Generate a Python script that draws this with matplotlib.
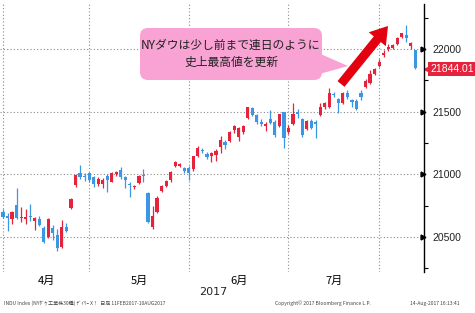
import numpy as np
import pandas as pd
import matplotlib
matplotlib.use('Agg')
import matplotlib.pyplot as plt
from matplotlib.patches import FancyBboxPatch, Polygon, FancyArrow
from matplotlib.transforms import IdentityTransform, blended_transform_factory

# daily candles, NY Dow, 31 Mar - 10 Aug 2017
dates = pd.bdate_range('2017-03-31', '2017-08-10')
dates = dates.drop(pd.to_datetime(['2017-04-14', '2017-05-29', '2017-07-04']))

o = [20700, 20665, 20645, 20755, 20650, 20645, 20668, 20630, 20644, 20572,
     20500, 20572, 20516, 20420, 20580, 20731, 20915, 21011, 20990, 21008,
     20979, 20923, 20920, 20990, 20940, 21000, 21035, 20980, 20925, 20900,
     20930, 20995, 20851, 20580, 20700, 20867, 20907, 20955, 21066, 21070,
     21050, 21050, 21043, 21149, 21195, 21162, 21150, 21154, 21218, 21260,
     21266, 21354, 21298, 21338, 21449, 21529, 21473, 21420, 21385, 21440,
     21418, 21386, 21497, 21340, 21400, 21497, 21441, 21362, 21425, 21415,
     21473, 21537, 21537, 21645, 21601, 21569, 21649, 21590, 21585, 21649,
     21697, 21729, 21800, 21864, 21950, 22000, 22010, 22040, 22096, 22110,
     22025, 21992]
h = [20720, 20690, 20710, 20890, 20740, 20720, 20760, 20660, 20665, 20590,
     20650, 20596, 20560, 20636, 20610, 20810, 21000, 21075, 21010, 21015,
     20990, 20975, 20970, 21000, 21020, 21030, 21058, 20990, 20935, 20915,
     20995, 21043, 20860, 20747, 20830, 20915, 20955, 21025, 21110, 21090,
     21060, 21070, 21150, 21225, 21210, 21180, 21180, 21200, 21305, 21275,
     21345, 21395, 21375, 21395, 21540, 21535, 21480, 21440, 21420, 21513,
     21430, 21485, 21500, 21390, 21570, 21520, 21450, 21430, 21440, 21430,
     21570, 21575, 21690, 21660, 21610, 21655, 21670, 21605, 21600, 21673,
     21760, 21830, 21850, 21920, 21990, 22040, 22040, 22100, 22130, 22190,
     22060, 21995]
l = [20650, 20550, 20600, 20640, 20620, 20600, 20625, 20555, 20585, 20450,
     20495, 20476, 20390, 20410, 20540, 20720, 20900, 20965, 20950, 20940,
     20900, 20910, 20890, 20860, 20935, 20990, 20965, 20890, 20820, 20880,
     20925, 20940, 20610, 20560, 20690, 20860, 20895, 20940, 21055, 21055,
     21010, 20955, 21030, 21140, 21170, 21120, 21100, 21110, 21170, 21200,
     21255, 21330, 21270, 21320, 21440, 21465, 21400, 21385, 21345, 21400,
     21300, 21380, 21210, 21320, 21395, 21450, 21300, 21355, 21365, 21290,
     21465, 21520, 21530, 21620, 21490, 21565, 21600, 21535, 21510, 21593,
     21690, 21720, 21790, 21855, 21940, 21985, 22000, 22030, 22085, 22060,
     22000, 21840]
c = [20663, 20650, 20700, 20655, 20662, 20656, 20658, 20651, 20596, 20460,
     20644, 20532, 20412, 20580, 20548, 20800, 20995, 20979, 20981, 20955,
     20923, 20963, 20957, 20951, 21010, 21015, 20980, 20955, 20915, 20907,
     20987, 20985, 20620, 20668, 20811, 20907, 20947, 21018, 21098, 21082,
     21025, 21010, 21147, 21212, 21184, 21138, 21174, 21190, 21275, 21236,
     21338, 21386, 21370, 21386, 21537, 21473, 21418, 21405, 21400, 21409,
     21314, 21481, 21290, 21370, 21481, 21485, 21314, 21425, 21370, 21405,
     21537, 21569, 21649, 21635, 21569, 21649, 21617, 21580, 21521, 21617,
     21745, 21800, 21840, 21896, 21965, 22016, 22030, 22088, 22128, 22085,
     22050, 21848]

last_price = '21844.01'
yticks = [20500, 21000, 21500, 22000]
note = 'NYダウは少し前まで連日のように\n史上最高値を更新'

RED = '#e6233d'
BLUE = '#3c96e6'
W, H = 475, 313

fig = plt.figure(figsize=(W / 100, H / 100), dpi=100)
ax = fig.add_axes([0, 41 / H, 424 / W, 268 / H])

x = np.arange(len(dates))
o, h, l, c = map(np.array, (o, h, l, c))
up = c >= o
cols = np.where(up, RED, BLUE)
ax.vlines(x, l, h, colors=cols, lw=0.9, zorder=3)
bot = np.minimum(o, c)
ht = np.maximum(np.abs(c - o), 8)
ax.bar(x, ht, bottom=bot, width=0.7, color=cols, lw=0, zorder=4)

# month boundaries = last trading day of each month (Mar..Jul)
ms = pd.Series(x, index=dates)
ends = ms.groupby(dates.month).max().values[:-1]
for e in ends:
    ax.axvline(e, color='#8a8a8a', ls=(0, (1, 2)), lw=0.8, zorder=1)
for yv in yticks:
    ax.axhline(yv, color='#8a8a8a', ls=(0, (1, 2)), lw=0.8, zorder=1)

mid = [(ends[i] + ends[i + 1]) / 2 for i in range(len(ends) - 1)]
mlabels = [f'{m}月' for m in range(4, 8)]
ax.set_xticks(mid)
ax.set_xticklabels(mlabels, family=['Noto Sans CJK JP', 'DejaVu Sans'], fontsize=8)
ax.tick_params(axis='x', length=0, pad=3)

ax.set_xlim(-0.66, 92.9)
ax.set_ylim(20220, 22360)
for s in ['left', 'top', 'bottom']:
    ax.spines[s].set_visible(False)
ax.spines['right'].set_linewidth(1.0)
ax.yaxis.tick_right()
ax.set_yticks(yticks)
ax.set_yticks(np.arange(20250, 22351, 250), minor=True)
ax.tick_params(axis='y', which='major', length=0, pad=6, labelsize=7.5, labelcolor='#222222')
for t in ax.get_yticklabels():
    t.set_family('Liberation Sans')
ax.tick_params(axis='y', which='minor', length=3, width=0.8, direction='out')
tr = blended_transform_factory(ax.transAxes, ax.transData)
ax.plot([0.997] * len(yticks), yticks, ls='none', marker='>', ms=3.5, color='black',
        transform=tr, clip_on=False, zorder=6)

# last price tag
ax.plot([1.009], [21844], marker='<', ms=6, color=RED, transform=tr, clip_on=False)
ax.text(1.015, 21844, last_price, transform=tr, color='white', fontsize=7.5,
        family='Liberation Sans', va='center', ha='left', clip_on=False,
        bbox=dict(boxstyle='square,pad=0.2', fc=RED, ec='none'))

# red arrow
fig.add_artist(FancyArrow(341, H - 84, 47, 58, width=9, head_width=22, head_length=17,
                          length_includes_head=True, color='#e3000f', lw=0,
                          transform=IdentityTransform()))

# callout
pink = '#f8a3d3'
fig.add_artist(Polygon([(316, H - 52), (348, H - 66), (316, H - 75)], closed=True,
                       fc=pink, ec='none', transform=IdentityTransform()))
fig.add_artist(FancyBboxPatch((140, H - 80), 182, 52,
                              boxstyle='round,pad=0,rounding_size=8',
                              fc=pink, ec='none', transform=IdentityTransform()))
fig.text(231 / W, 1 - 54 / H, note, ha='center', va='center', fontsize=8.5,
         linespacing=1.45, color='#222222', family=['Noto Sans CJK JP', 'DejaVu Sans'])

fig.text(213 / W, 1 - 292 / H, '2017', ha='center', va='center', fontsize=8, color='#222222')
ft = dict(fontsize=3.6, color='#444444', va='center', family=['Noto Sans CJK JP', 'DejaVu Sans'])
fig.text(4 / W, 1 - 303 / H, 'INDU Index (NYﾀﾞｳ 工業株30種) ﾃﾞｲﾘｰ X！  日足 11FEB2017-10AUG2017', **ft)
fig.text(275 / W, 1 - 303 / H, 'Copyright© 2017 Bloomberg Finance L.P.', **ft)
fig.text(410 / W, 1 - 303 / H, '14-Aug-2017 16:13:41', **ft)

fig.savefig('out.png', dpi=100)
